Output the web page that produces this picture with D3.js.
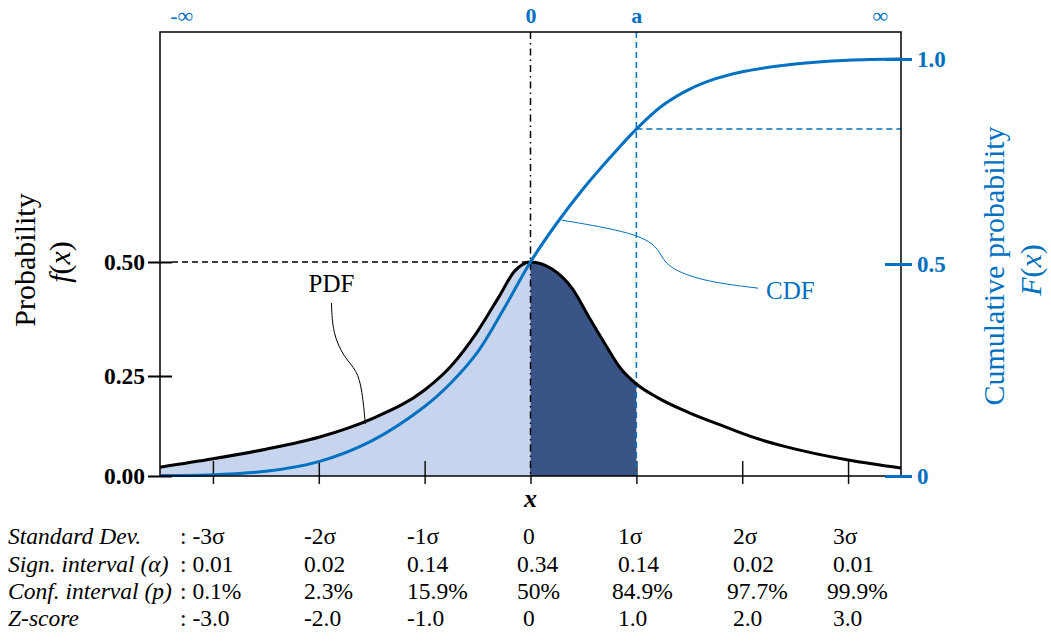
<!DOCTYPE html>
<meta charset="utf-8">
<style>
  body { margin: 0; background: #fff; }
  svg text { font-family: "Liberation Serif", "Times New Roman", serif; }
</style>
<script src="https://d3js.org/d3.v7.min.js"></script>
<svg id="chart" width="1051" height="641"></svg>
<script>

// ---- data (x in units of sigma) ----
var pdfSigma = [-3.5, -3, -2.5, -2, -1.5, -1, -0.75, -0.5, -0.3, -0.15, 0, 0.2, 0.4, 0.55, 0.7, 0.85, 1, 1.2, 1.5, 1.8, 2.1, 2.4, 3, 3.5];
var pdfValue = [0.022, 0.043, 0.067, 0.097, 0.143, 0.215, 0.272, 0.348, 0.423, 0.48, 0.5, 0.485, 0.44, 0.38, 0.322, 0.267, 0.23, 0.196, 0.158, 0.127, 0.097, 0.074, 0.04, 0.02];

var cdfSigma = [-3.5, -3, -2.5, -2, -1.5, -1, -0.75, -0.5, -0.25, 0, 0.25, 0.5, 0.75, 1, 1.25, 1.5, 1.75, 2, 2.5, 3, 3.5];
var cdfValue = [0.001, 0.003, 0.011, 0.034, 0.083, 0.164, 0.22, 0.292, 0.395, 0.505, 0.6, 0.684, 0.759, 0.829, 0.887, 0.926, 0.952, 0.969, 0.988, 0.997, 1.0];

var xTicks = [-3, -2, -1, 0, 1, 2, 3];
var leftTicks = [0, 0.25, 0.5];
var leftTickLabels = ["0.00", "0.25", "0.50"];
var rightTicks = [0, 0.5, 1];
var rightTickLabels = ["0", "0.5", "1.0"];
var topMarks = [-3.3, 0, 1, 3.3];
var topLabels = ["-\u221E", "0", "a", "\u221E"];
var aSigma = 1;
var aCdf = 0.829;

var rowLabels = ["Standard Dev.", "Sign. interval (\u03B1)", "Conf. interval (p)", "Z-score"];
var stdDev = [": -3\u03C3", "-2\u03C3", "-1\u03C3", " 0", " 1\u03C3", " 2\u03C3", " 3\u03C3"];
var signInterval = [": 0.01", "0.02", "0.14", "0.34", " 0.14", " 0.02", " 0.01"];
var confInterval = [": 0.1%", "2.3%", "15.9%", "50%", "84.9%", "97.7%", "99.9%"];
var zScore = [": -3.0", "-2.0", "-1.0", " 0", " 1.0", " 2.0", " 3.0"];

// leader lines for the PDF / CDF labels (sigma, value)
var pdfLeader = [[-1.88, 0.41], [-1.87, 0.344], [-1.76, 0.29], [-1.64, 0.263], [-1.59, 0.215], [-1.56, 0.13]];
var cdfLeader = [[0.297, 0.607], [1.0, 0.576], [1.2, 0.541], [1.24, 0.515], [1.34, 0.486], [1.66, 0.458], [2.15, 0.443]];

// ---- layout ----
var blue = "#0070c0";
var plotL = 160, plotR = 901, plotT = 32, plotB = 476;

var svg = d3.select("#chart");

var x = d3.scaleLinear().domain([-3.5, 3.5]).range([plotL, plotR]);
var yL = d3.scaleLinear().domain([0, 0.25, 0.5]).range([476, 376, 262]);
var yR = d3.scaleLinear().domain([0, 0.5, 1]).range([476, 264, 59]);

var pdf = pdfSigma.map(function(s, i) { return [s, pdfValue[i]]; });
var cdf = cdfSigma.map(function(s, i) { return [s, cdfValue[i]]; });

// clip regions for the two fills
var defs = svg.append("defs");
defs.append("clipPath").attr("id", "clipLeft")
  .append("rect").attr("x", x(-3.5)).attr("y", plotT).attr("width", x(0) - x(-3.5)).attr("height", plotB - plotT);
defs.append("clipPath").attr("id", "clipMid")
  .append("rect").attr("x", x(0)).attr("y", plotT).attr("width", x(aSigma) - x(0)).attr("height", plotB - plotT);

var area = d3.area()
  .curve(d3.curveMonotoneX)
  .x(function(d) { return x(d[0]); })
  .y0(yL(0))
  .y1(function(d) { return yL(d[1]); });

svg.append("path").datum(pdf)
  .attr("d", area).attr("fill", "#c6d5ed").attr("clip-path", "url(#clipLeft)");

// x ticks (no labels); the dark band covers the ones at 0 and a
var xAxis = svg.append("g")
  .attr("transform", "translate(0,461)")
  .call(d3.axisBottom(x).tickValues(xTicks).tickSize(23).tickFormat(""));
xAxis.select(".domain").remove();
xAxis.selectAll("line").attr("stroke", "#111").attr("stroke-width", 1.5);

svg.append("path").datum(pdf)
  .attr("d", area).attr("fill", "#3b5488").attr("clip-path", "url(#clipMid)");

// guide lines
svg.append("line")
  .attr("x1", 172).attr("x2", x(0))
  .attr("y1", yL(0.5)).attr("y2", yL(0.5))
  .attr("stroke", "#000").attr("stroke-width", 1.5).attr("stroke-dasharray", "6,4");
svg.append("line")
  .attr("x1", x(0)).attr("x2", x(0))
  .attr("y1", plotT).attr("y2", plotB)
  .attr("stroke", "#000").attr("stroke-width", 1.5).attr("stroke-dasharray", "7,4,1.5,4");
svg.append("line")
  .attr("x1", x(aSigma)).attr("x2", x(aSigma))
  .attr("y1", plotT).attr("y2", plotB)
  .attr("stroke", blue).attr("stroke-width", 1.5).attr("stroke-dasharray", "6,4");
svg.append("line")
  .attr("x1", x(aSigma)).attr("x2", plotR)
  .attr("y1", yR(aCdf)).attr("y2", yR(aCdf))
  .attr("stroke", blue).attr("stroke-width", 1.5).attr("stroke-dasharray", "6,4");

// curves
var pdfLine = d3.line().curve(d3.curveMonotoneX)
  .x(function(d) { return x(d[0]); })
  .y(function(d) { return yL(d[1]); });
var cdfLine = d3.line().curve(d3.curveCatmullRom.alpha(0.5))
  .x(function(d) { return x(d[0]); })
  .y(function(d) { return yR(d[1]); });

svg.append("path").datum(pdf)
  .attr("d", pdfLine).attr("fill", "none").attr("stroke", "#000").attr("stroke-width", 3);
svg.append("path").datum(cdf)
  .attr("d", cdfLine).attr("fill", "none").attr("stroke", blue).attr("stroke-width", 3);

// frame
svg.append("rect")
  .attr("x", plotL).attr("y", plotT)
  .attr("width", plotR - plotL).attr("height", plotB - plotT)
  .attr("fill", "none").attr("stroke", "#000").attr("stroke-width", 1.5);

// left axis
var yAxisL = svg.append("g")
  .attr("transform", "translate(172,0)")
  .call(d3.axisLeft(yL).tickValues(leftTicks).tickSize(24).tickPadding(3)
    .tickFormat(function(d, i) { return leftTickLabels[i]; }));
yAxisL.select(".domain").remove();
yAxisL.selectAll("line").attr("stroke", "#000").attr("stroke-width", 2);
yAxisL.selectAll("text")
  .attr("fill", "#000").attr("font-size", 23.5).attr("font-weight", "bold")
  .attr("font-family", "Liberation Serif, serif");

// right axis
var yAxisR = svg.append("g")
  .attr("transform", "translate(885,0)")
  .call(d3.axisRight(yR).tickValues(rightTicks).tickSize(27).tickPadding(5)
    .tickFormat(function(d, i) { return rightTickLabels[i]; }));
yAxisR.select(".domain").remove();
yAxisR.selectAll("line").attr("stroke", blue).attr("stroke-width", 3);
yAxisR.selectAll("text")
  .attr("fill", blue).attr("font-size", 23).attr("font-weight", "bold")
  .attr("font-family", "Liberation Serif, serif");

// top labels
var topAxis = svg.append("g")
  .attr("transform", "translate(0," + plotT + ")")
  .call(d3.axisTop(x).tickValues(topMarks).tickSize(0).tickPadding(9)
    .tickFormat(function(d, i) { return topLabels[i]; }));
topAxis.select(".domain").remove();
topAxis.selectAll("text")
  .attr("fill", blue).attr("font-size", 22)
  .attr("font-family", "Liberation Serif, serif")
  .attr("font-weight", function(d, i) { return (i === 1 || i === 2) ? "bold" : "normal"; });

// axis titles
svg.append("text")
  .attr("transform", "translate(35,260) rotate(-90)")
  .attr("text-anchor", "middle").attr("font-size", 30)
  .text("Probability");
var fx = svg.append("text")
  .attr("transform", "translate(70,262) rotate(-90)")
  .attr("text-anchor", "middle").attr("font-size", 30);
fx.append("tspan").attr("font-style", "italic").text("f");
fx.append("tspan").text("(");
fx.append("tspan").attr("font-style", "italic").text("x");
fx.append("tspan").text(")");

svg.append("text")
  .attr("transform", "translate(1004,266) rotate(-90)")
  .attr("text-anchor", "middle").attr("font-size", 30).attr("fill", blue)
  .text("Cumulative probability");
var Fx = svg.append("text")
  .attr("transform", "translate(1041,270) rotate(-90)")
  .attr("text-anchor", "middle").attr("font-size", 30).attr("fill", blue);
Fx.append("tspan").attr("font-style", "italic").text("F");
Fx.append("tspan").text("(");
Fx.append("tspan").attr("font-style", "italic").text("x");
Fx.append("tspan").text(")");

svg.append("text")
  .attr("x", x(0)).attr("y", 507)
  .attr("text-anchor", "middle").attr("font-size", 26)
  .attr("font-style", "italic").attr("font-weight", "bold")
  .text("x");

// curve labels with leader lines
var leaderPdf = d3.line().curve(d3.curveBasis)
  .x(function(d) { return x(d[0]); }).y(function(d) { return yL(d[1]); });
var leaderCdf = d3.line().curve(d3.curveBasis)
  .x(function(d) { return x(d[0]); }).y(function(d) { return yR(d[1]); });

svg.append("path").datum(pdfLeader)
  .attr("d", leaderPdf).attr("fill", "none").attr("stroke", "#000").attr("stroke-width", 1);
svg.append("text")
  .attr("x", x(pdfLeader[0][0])).attr("y", 292)
  .attr("text-anchor", "middle").attr("font-size", 25)
  .text("PDF");

svg.append("path").datum(cdfLeader)
  .attr("d", leaderCdf).attr("fill", "none").attr("stroke", blue).attr("stroke-width", 1);
svg.append("text")
  .attr("x", x(cdfLeader[cdfLeader.length - 1][0]) + 8).attr("y", 299)
  .attr("font-size", 25).attr("fill", blue)
  .text("CDF");

// bottom table
var rows = [stdDev, signInterval, confInterval, zScore];
var colX = [180, 304, 407, 517, 612, 727, 827];
var rowY = [544, 572, 599, 626];

rows.forEach(function(row, r) {
  svg.append("text")
    .attr("x", 8).attr("y", rowY[r])
    .attr("font-size", 23.5).attr("font-style", "italic")
    .text(rowLabels[r]);
  svg.selectAll(null)
    .data(row)
    .enter().append("text")
      .attr("x", function(d, i) { return colX[i]; })
      .attr("y", rowY[r])
      .attr("font-size", 23.5)
      .style("white-space", "pre")
      .text(function(d) { return d; });
});

</script>
